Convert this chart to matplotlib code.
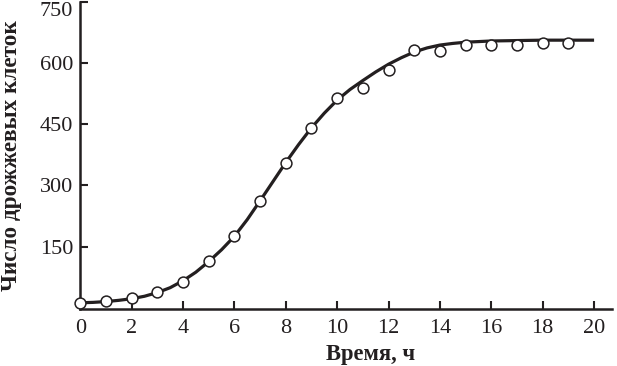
import matplotlib
matplotlib.use("Agg")
import matplotlib.pyplot as plt

# ── Data ─────────────────────────────────────────────────────────────────────
# observed yeast counts, one per hour
obs_hours = [0, 1, 2, 3, 4, 5, 6, 7, 8, 9, 10, 11, 12, 13, 14, 15, 16, 17, 18, 19]
obs_count = [12, 17, 24, 38, 64, 115, 175, 261, 356, 441, 515, 539, 583, 632, 630,
             644, 644, 644, 649, 649]

# fitted (logistic-looking) curve
fit_hours = [0, 0.5, 1, 1.5, 2, 2.5, 3, 3.5, 4, 4.5, 5, 5.5, 6, 6.5, 7, 7.5, 8, 8.5,
             9, 9.5, 10, 10.5, 11, 11.5, 12, 12.5, 13, 13.5, 14, 14.5, 15, 16, 17,
             18, 19, 20]
fit_count = [12, 13, 15, 18, 22, 28, 37, 49, 66, 87, 113, 142, 175, 216, 262, 309,
             356, 400, 441, 477, 509, 535, 557, 578, 597, 613, 627, 637, 644, 648,
             651, 654, 655, 656, 656, 656]

x_ticks = [0, 2, 4, 6, 8, 10, 12, 14, 16, 18, 20]
y_ticks = [150, 300, 450, 600, 750]

INK = "#231f20"

plt.rcParams["font.family"] = ["Liberation Serif", "DejaVu Serif"]

fig = plt.figure(figsize=(6.17, 3.66), dpi=100)
ax = fig.add_axes([0.130, 0.156, 0.862, 0.839])

ax.plot(fit_hours, fit_count, color=INK, lw=2.3, solid_capstyle="butt", zorder=2)
ax.plot(obs_hours, obs_count, "o", ms=7.8, mfc="white", mec=INK, mew=1.1,
        zorder=3, clip_on=False)

ax.set_xlim(0, 20.7)
ax.set_ylim(-3, 750)
ax.set_xticks(x_ticks)
ax.set_yticks(y_ticks)

for side in ("top", "right"):
    ax.spines[side].set_visible(False)
for side in ("left", "bottom"):
    ax.spines[side].set_linewidth(1.8)
    ax.spines[side].set_color(INK)

ax.tick_params(direction="in", length=6, width=1.5, colors=INK)
ax.tick_params(axis="x", labelsize=16, pad=7)
ax.tick_params(axis="y", labelsize=16, pad=5)

# top label sits just under its tick so it stays inside the figure
ax.get_yticklabels()[-1].set_verticalalignment("top")

ax.set_xlabel("Время, ч", fontsize=16.3, fontweight="bold", color=INK)
ax.xaxis.set_label_coords(0.545, -0.115)
ax.set_ylabel("Число дрожжевых клеток", fontsize=16.7, fontweight="bold", color=INK)
ax.yaxis.set_label_coords(-0.109, 0.5)

fig.savefig("out.png", dpi=100)
